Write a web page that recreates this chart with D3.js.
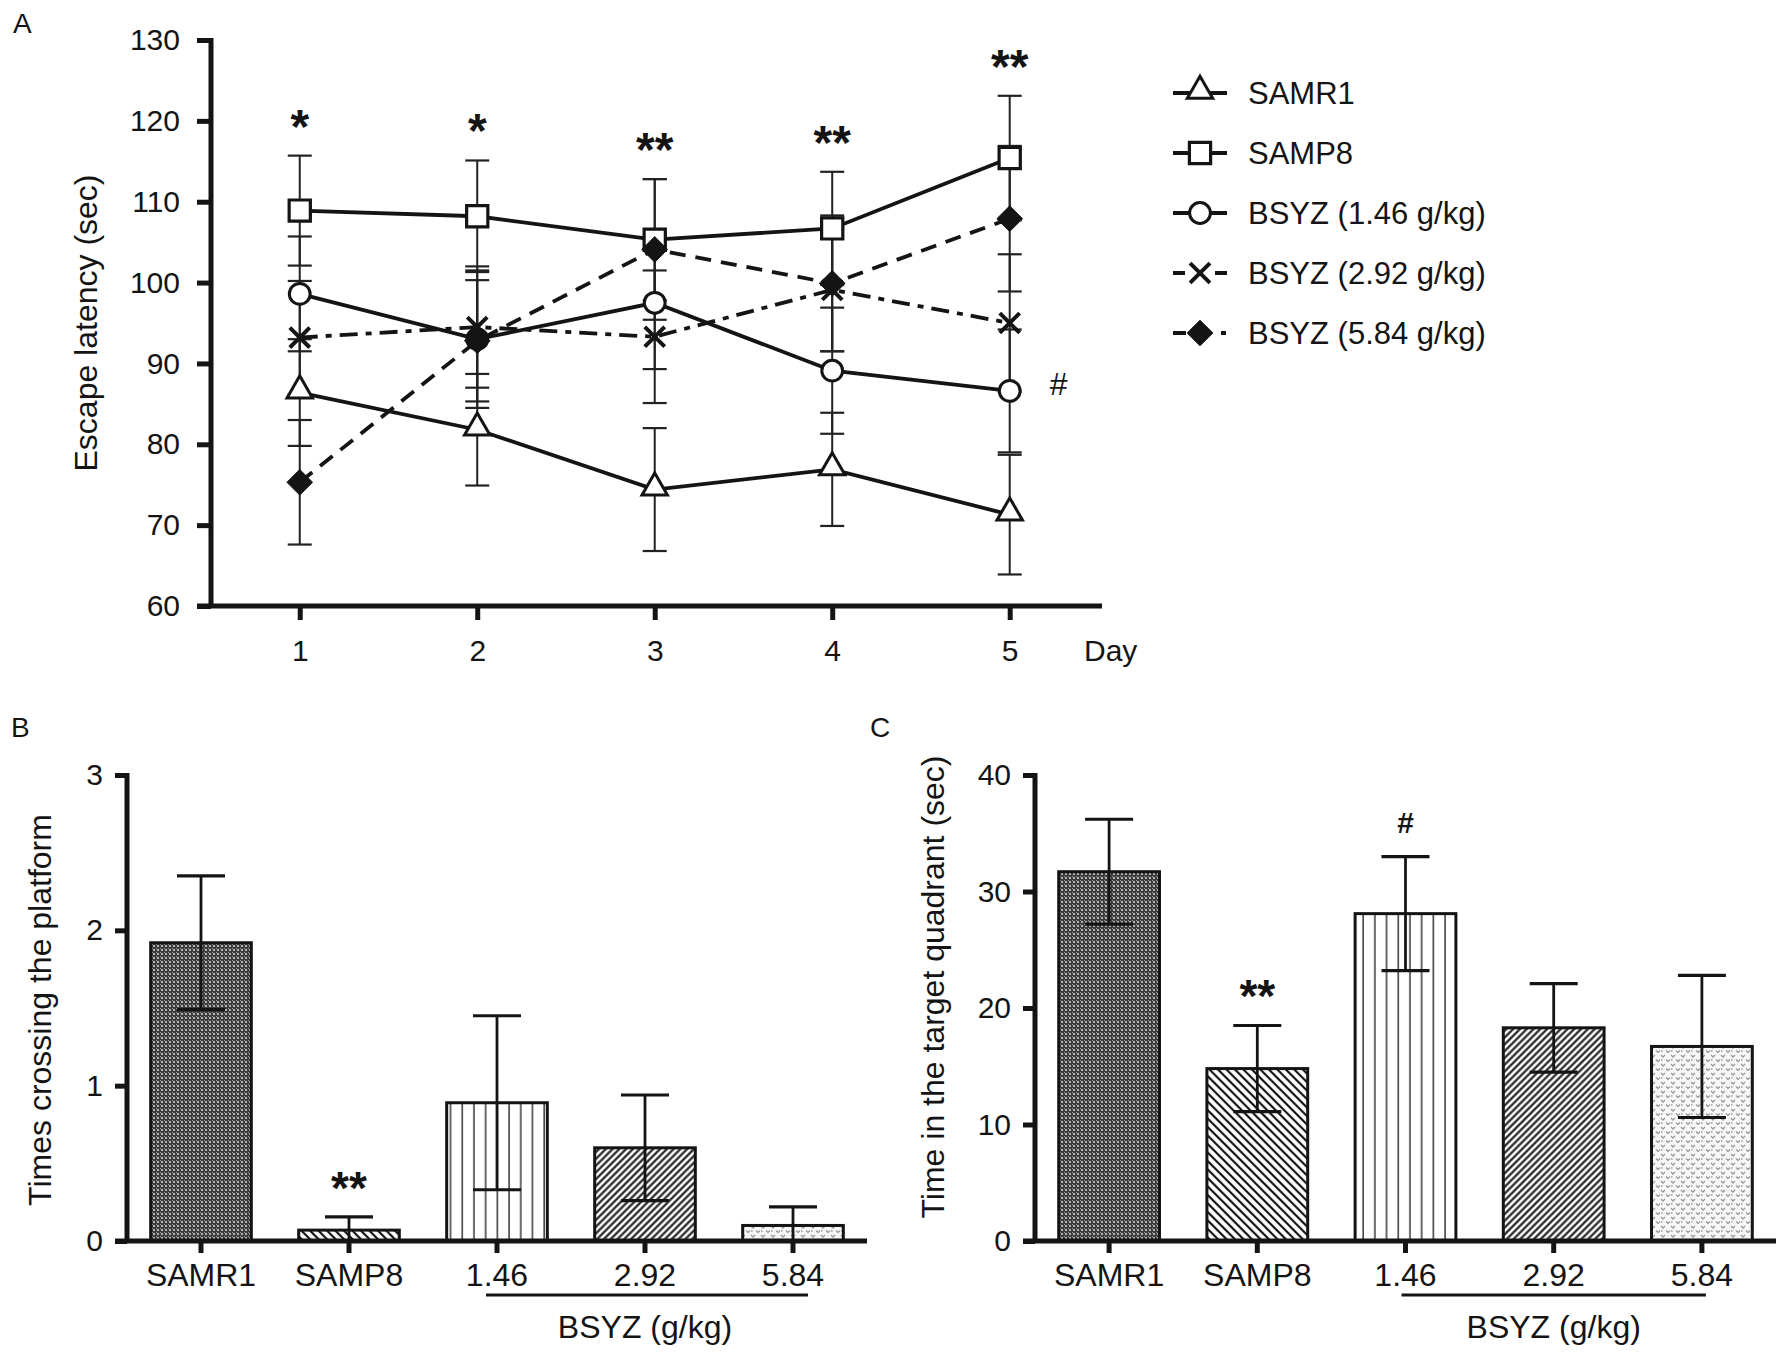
<!DOCTYPE html>
<html>
<head>
<meta charset="utf-8">
<script src="https://cdn.jsdelivr.net/npm/d3@7/dist/d3.min.js"></script>
<style>
  html, body { margin: 0; padding: 0; background: #fff; }
  svg { display: block; font-family: "Liberation Sans", Arial, Helvetica, sans-serif; }
</style>
</head>
<body>
<svg id="chart" width="1789" height="1357"></svg>
<script>
// ---------------- DATA ----------------
const days = [1, 2, 3, 4, 5];
const dayTickLabels = ["1", "2", "3", "4", "5"];
const latencyTicks = [60, 70, 80, 90, 100, 110, 120, 130];
const seriesNames = ["SAMR1", "SAMP8", "BSYZ (1.46 g/kg)", "BSYZ (2.92 g/kg)", "BSYZ (5.84 g/kg)"];

const samr1Mean = [86.4, 81.8, 74.4, 76.9, 71.3];
const samr1Err  = [6.6, 6.9, 7.6, 7.0, 7.4];
const samp8Mean = [108.9, 108.2, 105.3, 106.7, 115.4];
const samp8Err  = [6.8, 6.9, 7.5, 7.0, 7.7];
const bsyz146Mean = [98.6, 93.0, 97.5, 89.1, 86.6];
const bsyz146Err  = [7.1, 8.5, 8.2, 7.8, 7.6];
const bsyz292Mean = [93.2, 94.5, 93.3, 99.1, 95.0];
const bsyz292Err  = [7.0, 7.5, 8.2, 7.6, 8.5];
const bsyz584Mean = [75.3, 92.8, 104.1, 99.9, 107.9];
const bsyz584Err  = [7.7, 7.5, 8.7, 8.4, 9.0];
const dayMarks = ["*", "*", "**", "**", "**"];

const barCategories = ["SAMR1", "SAMP8", "1.46", "2.92", "5.84"];
const crossingMean = [1.92, 0.07, 0.89, 0.60, 0.10];
const crossingErr  = [0.43, 0.085, 0.56, 0.34, 0.12];
const crossingTicks = [0, 1, 2, 3];
const crossingMarks = ["", "**", "", "", ""];

const quadrantMean = [31.7, 14.8, 28.1, 18.3, 16.7];
const quadrantErr  = [4.5, 3.7, 4.9, 3.8, 6.1];
const quadrantTicks = [0, 10, 20, 30, 40];
const quadrantMarks = ["", "**", "#", "", ""];

// ---------------- SETUP ----------------
const svg = d3.select("#chart");
const INK = "#141414";
const defs = svg.append("defs");

// patterns
const pDots = defs.append("pattern").attr("id", "pDots").attr("patternUnits", "userSpaceOnUse")
  .attr("width", 4).attr("height", 4);
pDots.append("rect").attr("width", 4).attr("height", 4).attr("fill", "#3c3c3c");
pDots.append("rect").attr("x", 1.2).attr("y", 1.2).attr("width", 1.6).attr("height", 1.6).attr("fill", "#f4f4f4");
pDots.append("rect").attr("x", 0).attr("y", 0).attr("width", 1).attr("height", 1).attr("fill", "#9a9a9a");

const pBack = defs.append("pattern").attr("id", "pBack").attr("patternUnits", "userSpaceOnUse")
  .attr("width", 6).attr("height", 6).attr("patternTransform", "rotate(-45)");
pBack.append("rect").attr("width", 6).attr("height", 6).attr("fill", "#fff");
pBack.append("line").attr("x1", 3).attr("x2", 3).attr("y1", 0).attr("y2", 6).attr("stroke", INK).attr("stroke-width", 2.2);

const pVert = defs.append("pattern").attr("id", "pVert").attr("patternUnits", "userSpaceOnUse")
  .attr("width", 11.7).attr("height", 10);
pVert.append("rect").attr("width", 11.7).attr("height", 10).attr("fill", "#fff");
pVert.append("line").attr("x1", 6).attr("x2", 6).attr("y1", 0).attr("y2", 10).attr("stroke", "#444").attr("stroke-width", 1.6);

const pFwd = defs.append("pattern").attr("id", "pFwd").attr("patternUnits", "userSpaceOnUse")
  .attr("width", 4.8).attr("height", 6).attr("patternTransform", "rotate(45)");
pFwd.append("rect").attr("width", 4.8).attr("height", 6).attr("fill", "#fff");
pFwd.append("line").attr("x1", 2.4).attr("x2", 2.4).attr("y1", 0).attr("y2", 6).attr("stroke", INK).attr("stroke-width", 2.1);

const pSpeck = defs.append("pattern").attr("id", "pSpeck").attr("patternUnits", "userSpaceOnUse")
  .attr("width", 10).attr("height", 9);
pSpeck.append("rect").attr("width", 10).attr("height", 9).attr("fill", "#f7f7f7");
pSpeck.append("path").attr("d", "M1,2 L3,4 L5,2 M6,6.5 L8,8.5 L10,6.5 M1,7 L2.5,7").attr("stroke", "#9a9a9a")
  .attr("stroke-width", 1.3).attr("fill", "none");

const barFills = ["url(#pDots)", "url(#pBack)", "url(#pVert)", "url(#pFwd)", "url(#pSpeck)"];

function styleAxis(g, fontSize) {
  g.select(".domain").remove();
  g.selectAll(".tick line").attr("stroke", INK).attr("stroke-width", 5);
  g.selectAll(".tick text").attr("fill", INK).attr("font-size", fontSize)
    .attr("font-family", '"Liberation Sans", Arial, sans-serif');
}

// ---------------- PANEL A ----------------
const xA = d3.scaleLinear().domain([0.5, 5.52]).range([211, 1102]);
const yA = d3.scaleLinear().domain([60, 130]).range([606, 40]);

svg.append("text").attr("x", 13).attr("y", 33).attr("font-size", 28).attr("fill", INK).text("A");

// error bars
const seriesMeans = [samr1Mean, samp8Mean, bsyz146Mean, bsyz292Mean, bsyz584Mean];
const seriesErrs = [samr1Err, samp8Err, bsyz146Err, bsyz292Err, bsyz584Err];
const gErr = svg.append("g");
seriesMeans.forEach((m, si) => {
  days.forEach((d, i) => {
    const x = xA(d), hi = yA(m[i] + seriesErrs[si][i]), lo = yA(m[i] - seriesErrs[si][i]);
    gErr.append("line").attr("x1", x).attr("x2", x).attr("y1", hi).attr("y2", lo).attr("stroke", "#222").attr("stroke-width", 2);
    [hi, lo].forEach(yy => gErr.append("line").attr("x1", x - 12).attr("x2", x + 12).attr("y1", yy).attr("y2", yy)
      .attr("stroke", "#222").attr("stroke-width", 2.2));
  });
});

// lines
const dashes = [null, null, null, "18,8,6,8", "16,10"];
const lineGen = d3.line().x(d => xA(d[0])).y(d => yA(d[1]));
seriesMeans.forEach((m, si) => {
  svg.append("path").datum(days.map((d, i) => [d, m[i]])).attr("d", lineGen)
    .attr("fill", "none").attr("stroke", INK).attr("stroke-width", 3.8)
    .attr("stroke-dasharray", dashes[si]);
});

// markers
const markerDefs = [
  { type: d3.symbolTriangle, size: 280, fill: "#fff", sw: 3 , dy: -2},
  { type: d3.symbolSquare, size: 450, fill: "#fff", sw: 3.2, dy: 0 },
  { type: d3.symbolCircle, size: 340, fill: "#fff", sw: 3, dy: 0 },
  { type: d3.symbolTimes, size: 260, fill: "none", sw: 4, dy: 0 },
  { type: d3.symbolDiamond2, size: 420, fill: INK, sw: 1, dy: 0 }
];
function drawMarker(g, si, x, y) {
  const md = markerDefs[si];
  g.append("path").attr("d", d3.symbol().type(md.type).size(md.size)())
    .attr("transform", `translate(${x},${y + md.dy})`)
    .attr("fill", md.fill).attr("stroke", INK).attr("stroke-width", md.sw);
}
const gMk = svg.append("g");
seriesMeans.forEach((m, si) => {
  days.forEach((d, i) => drawMarker(gMk, si, xA(d), yA(m[i])));
});

// axes
const axAy = svg.append("g").attr("transform", "translate(211,0)")
  .call(d3.axisLeft(yA).tickValues(latencyTicks).tickFormat(d3.format("d")).tickSize(14).tickPadding(17).tickSizeOuter(0));
styleAxis(axAy, 30);
const axAx = svg.append("g").attr("transform", "translate(0,606)")
  .call(d3.axisBottom(xA).tickValues(days).tickFormat((d, i) => dayTickLabels[i]).tickSize(14).tickPadding(20).tickSizeOuter(0));
styleAxis(axAx, 30);
svg.append("line").attr("x1", 211).attr("x2", 211).attr("y1", yA(130) - 2).attr("y2", yA(60)).attr("stroke", INK).attr("stroke-width", 5);
svg.append("line").attr("x1", 197).attr("x2", 1102).attr("y1", yA(60)).attr("y2", yA(60)).attr("stroke", INK).attr("stroke-width", 5);
svg.append("text").attr("x", 1084).attr("y", 661).attr("font-size", 30).attr("fill", INK).text("Day");

svg.append("text").attr("transform", "translate(86,323) rotate(-90)").attr("text-anchor", "middle")
  .attr("dominant-baseline", "central").attr("font-size", 32).attr("fill", INK).text("Escape latency (sec)");

// significance
days.forEach((d, i) => {
  svg.append("text").attr("x", xA(d)).attr("y", yA(samp8Mean[i] + samp8Err[i]) - 40 + 27)
    .attr("text-anchor", "middle").attr("font-size", 48).attr("font-weight", "bold").attr("fill", INK).text(dayMarks[i]);
});
svg.append("text").attr("x", xA(5) + 49).attr("y", yA(bsyz146Mean[4]) + 4).attr("text-anchor", "middle")
  .attr("font-size", 32).attr("fill", INK).text("#");

// legend
const legX = 1200, legY0 = 93, legStep = 60;
const legDash = [null, null, null, "12,30,12", "13,35,5"];
seriesNames.forEach((name, si) => {
  const y = legY0 + si * legStep;
  svg.append("line").attr("x1", legX - 27).attr("x2", legX + 27).attr("y1", y).attr("y2", y)
    .attr("stroke", INK).attr("stroke-width", 3.8).attr("stroke-dasharray", legDash[si]);
  drawMarker(svg, si, legX, y);
  svg.append("text").attr("x", 1248).attr("y", y).attr("dominant-baseline", "central")
    .attr("font-size", 31).attr("fill", INK).text(name);
});

// ---------------- BAR PANELS ----------------
function barPanel(opts) {
  const { x0, x1, yMax, ticks, means, errs, marks, title, titleX, titleCY, letter, letterX, ulLeft, ulRight } = opts;
  const xB = d3.scaleBand().domain(barCategories).range([x0, x1]).paddingInner(0.32).paddingOuter(0.16);
  const yB = d3.scaleLinear().domain([0, yMax]).range([1241, 775]);
  const g = svg.append("g");
  svg.append("text").attr("x", letterX).attr("y", 737).attr("font-size", 28).attr("fill", INK).text(letter);

  // bars
  barCategories.forEach((c, i) => {
    g.append("rect").attr("x", xB(c)).attr("y", yB(means[i])).attr("width", xB.bandwidth())
      .attr("height", yB(0) - yB(means[i])).attr("fill", barFills[i]).attr("stroke", INK).attr("stroke-width", 3);
  });
  // error bars
  barCategories.forEach((c, i) => {
    const cx = xB(c) + xB.bandwidth() / 2;
    const hi = yB(means[i] + errs[i]);
    const lo = yB(Math.max(0, means[i] - errs[i]));
    g.append("line").attr("x1", cx).attr("x2", cx).attr("y1", hi).attr("y2", lo).attr("stroke", INK).attr("stroke-width", 2.8);
    g.append("line").attr("x1", cx - 24).attr("x2", cx + 24).attr("y1", hi).attr("y2", hi).attr("stroke", INK).attr("stroke-width", 3.2);
    if (means[i] - errs[i] > 0)
      g.append("line").attr("x1", cx - 24).attr("x2", cx + 24).attr("y1", lo).attr("y2", lo).attr("stroke", INK).attr("stroke-width", 3.2);
    if (marks[i]) {
      const isHash = marks[i] === "#";
      g.append("text").attr("x", cx).attr("y", hi - (isHash ? 35 - 11 : 40 - 27))
        .attr("text-anchor", "middle").attr("font-size", isHash ? 30 : 46).attr("font-weight", "bold")
        .attr("fill", INK).text(marks[i]);
    }
  });

  // axes
  const ay = svg.append("g").attr("transform", `translate(${x0},0)`)
    .call(d3.axisLeft(yB).tickValues(ticks).tickFormat(d3.format("d")).tickSize(12).tickPadding(12).tickSizeOuter(0));
  styleAxis(ay, 30);
  const ax = svg.append("g").attr("transform", "translate(0,1241)")
    .call(d3.axisBottom(xB).tickSize(12).tickPadding(10).tickSizeOuter(0));
  styleAxis(ax, 32);
  svg.append("line").attr("x1", x0).attr("x2", x0).attr("y1", 773).attr("y2", 1241).attr("stroke", INK).attr("stroke-width", 5);
  svg.append("line").attr("x1", x0 - 12).attr("x2", x1).attr("y1", 1241).attr("y2", 1241).attr("stroke", INK).attr("stroke-width", 5);

  // group underline
  const ux0 = xB("1.46") + xB.bandwidth() / 2 - ulLeft, ux1 = xB("5.84") + xB.bandwidth() / 2 + ulRight;
  svg.append("line").attr("x1", ux0).attr("x2", ux1).attr("y1", 1295).attr("y2", 1295).attr("stroke", INK).attr("stroke-width", 3);
  svg.append("text").attr("x", xB("2.92") + xB.bandwidth() / 2).attr("y", 1338).attr("text-anchor", "middle")
    .attr("font-size", 32).attr("fill", INK).text("BSYZ (g/kg)");

  svg.append("text").attr("transform", `translate(${titleX},${titleCY}) rotate(-90)`).attr("text-anchor", "middle")
    .attr("dominant-baseline", "central").attr("font-size", 32).attr("fill", INK).text(title);
}

barPanel({ x0: 127, x1: 867, yMax: 3, ticks: crossingTicks, means: crossingMean, errs: crossingErr, marks: crossingMarks,
  title: "Times crossing the platform", titleX: 40, titleCY: 1010, letter: "B", letterX: 11, ulLeft: 11, ulRight: 15 });
barPanel({ x0: 1035, x1: 1776, yMax: 40, ticks: quadrantTicks, means: quadrantMean, errs: quadrantErr, marks: quadrantMarks,
  title: "Time in the target quadrant (sec)", titleX: 933, titleCY: 987, letter: "C", letterX: 870, ulLeft: 4, ulRight: 4 });
</script>
</body>
</html>
